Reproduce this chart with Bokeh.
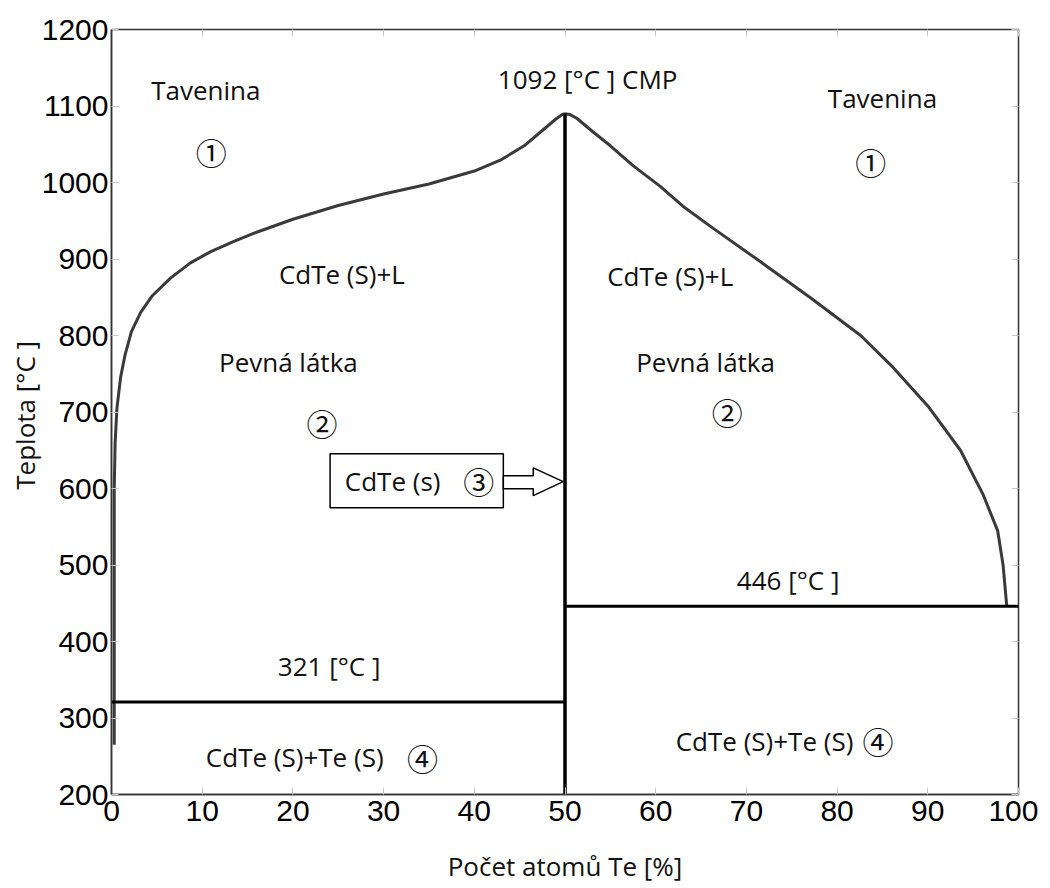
from bokeh.plotting import figure
from bokeh.models import LinearAxis, FixedTicker, Range1d
from bokeh.core.properties import value
from bokeh.embed import file_html
from bokeh.resources import INLINE

# ---- data ----
x_ticks = [0, 10, 20, 30, 40, 50, 60, 70, 80, 90, 100]
y_ticks = [200, 300, 400, 500, 600, 700, 800, 900, 1000, 1100, 1200]

liq_left_x = [0.3, 0.3, 0.4, 0.6, 1.0, 1.5, 2.2, 3.2, 4.5, 6.5, 8.7, 11, 13.5, 16, 20, 25, 30, 35, 40, 43, 45.5, 47.5, 49, 49.7, 50]
liq_left_T = [265, 600, 660, 705, 745, 775, 805, 830, 852, 875, 895, 910, 923, 935, 952, 970, 985, 998, 1015, 1030, 1048, 1068, 1083, 1089, 1090]

liq_right_x = [50, 50.5, 51.3, 53, 55, 57.5, 60.5, 63, 66, 71.6, 77.1, 82.6, 86.2, 90, 93.6, 96.1, 97.7, 98.3, 98.7]
liq_right_T = [1090, 1089, 1084, 1067, 1048, 1022, 995, 969, 943, 896, 849, 800, 758, 708, 650, 592, 545, 500, 447]

cmp_x = [50, 50]
cmp_T = [200, 1090]

eut_left_x = [0, 50]
eut_left_T = [321, 321]
eut_right_x = [50, 100]
eut_right_T = [446, 446]

label_text = ["Tavenina", "Tavenina", "1092 [°C ] CMP", "CdTe (S)+L", "CdTe (S)+L",
              "Pevná látka", "Pevná látka", "321 [°C ]", "446 [°C ]",
              "CdTe (S)+Te (S)", "CdTe (S)+Te (S)", "CdTe (s)"]
label_x = [10.4, 85.0, 52.5, 25.4, 61.6, 19.5, 65.5, 24.0, 74.6, 20.2, 72.0, 31.0]
label_T = [1121, 1110, 1135, 881, 878, 766, 765, 368, 480, 249, 270, 610]

circ_text = ["①", "①", "②", "②", "③", "④", "④"]
circ_x = [11.0, 83.7, 23.2, 67.9, 40.5, 34.3, 84.5]
circ_T = [1040, 1027, 686, 701, 610, 249, 270]

# box around "CdTe (s) ③" and hollow arrow pointing to CdTe line
box_left, box_right, box_bottom, box_top = 24.1, 43.2, 575, 645.3
arrow_x = [43.2, 46.5, 46.5, 49.8, 46.5, 46.5, 43.2]
arrow_T = [616.7, 616.7, 627, 608.9, 590.6, 599.7, 599.7]

# ---- figure ----
p = figure(width=1038, height=886, output_backend="svg", toolbar_location=None,
           x_range=Range1d(0, 100), y_range=Range1d(200, 1200),
           min_border_left=111, min_border_right=20, min_border_top=29, min_border_bottom=89)
p.background_fill_color = "white"
p.border_fill_color = "white"
p.outline_line_color = "#333333"
p.outline_line_width = 1.5
p.xgrid.visible = False
p.ygrid.visible = False

label_font = "Open Sans"

for ax, ticks in ((p.xaxis[0], x_ticks), (p.yaxis[0], y_ticks)):
    ax.ticker = FixedTicker(ticks=ticks)
    ax.major_tick_in = 7
    ax.major_tick_out = 0
    ax.minor_tick_line_color = None
    ax.major_tick_line_color = "#c8c8c8"
    ax.axis_line_color = "#333333"
    ax.axis_line_width = 1.5
    ax.major_label_text_font = "Liberation Sans"
    ax.major_label_text_font_size = "30px"
    ax.major_label_text_color = "black"
    ax.axis_label_text_font = label_font
    ax.axis_label_text_font_size = "26px"
    ax.axis_label_text_font_style = "normal"
    ax.axis_label_text_color = "#111111"

p.xaxis.axis_label = "Počet atomů Te [%]"
p.yaxis.axis_label = "Teplota  [°C ]"
p.xaxis.major_label_standoff = 6
p.xaxis.axis_label_standoff = 24
p.yaxis.major_label_standoff = 3
p.yaxis.axis_label_standoff = -4

# tick marks on the top and right frame edges
for loc, ticks in (("above", x_ticks), ("right", y_ticks)):
    ax2 = LinearAxis(ticker=FixedTicker(ticks=ticks), major_tick_in=7, major_tick_out=0,
                     major_tick_line_color="#c8c8c8", minor_tick_line_color=None,
                     axis_line_color=None, major_label_text_alpha=0,
                     major_label_text_font_size="1px", major_label_standoff=0)
    p.add_layout(ax2, loc)

# curves
p.line(liq_left_x, liq_left_T, line_color="#3a3a3a", line_width=3)
p.line(liq_right_x, liq_right_T, line_color="#3a3a3a", line_width=3)
p.line(cmp_x, cmp_T, line_color="black", line_width=3.5)
p.line(eut_left_x, eut_left_T, line_color="black", line_width=3)
p.line(eut_right_x, eut_right_T, line_color="black", line_width=3)

# box and arrow
p.quad(left=[box_left], right=[box_right], bottom=[box_bottom], top=[box_top],
       fill_color="white", line_color="black", line_width=1.5)
p.patch(arrow_x, arrow_T, fill_color="white", line_color="black", line_width=1.5)

# region labels
p.text(label_x, label_T, text=label_text, text_font=value(label_font), text_font_size="26px",
       text_color="#111111", text_align="center", text_baseline="middle")
p.text(circ_x, circ_T, text=circ_text, text_font=value("Noto Sans CJK JP"), text_font_size="31px",
       text_color="#111111", text_align="center", text_baseline="middle")

open("out.html", "w").write(file_html(p, INLINE))
